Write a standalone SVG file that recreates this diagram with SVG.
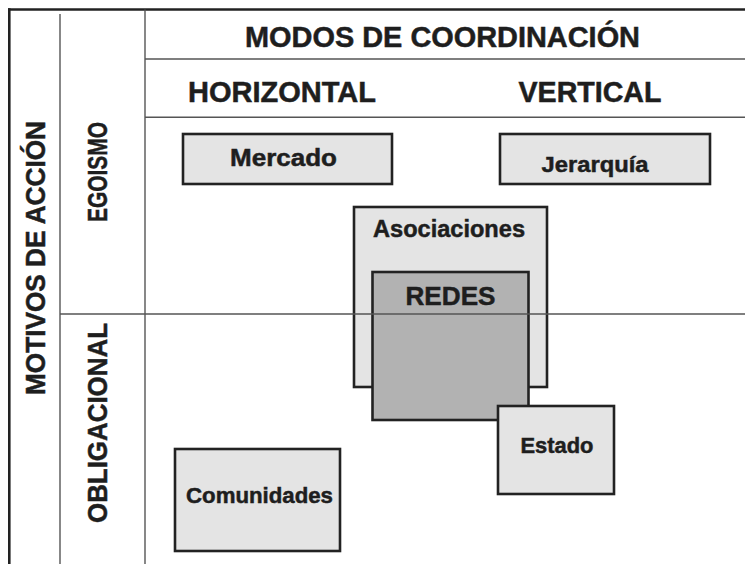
<svg xmlns="http://www.w3.org/2000/svg" width="745" height="564" viewBox="0 0 745 564">
  <style>
    .box { fill: #e4e4e4; stroke: #222; stroke-width: 2.6; }
    .dark { fill: #b2b2b2; stroke: #222; stroke-width: 2.6; }
    .lbl { font-family: "Liberation Sans", Arial, sans-serif; font-weight: bold; fill: #1e1e1e; stroke: #1e1e1e; stroke-width: 0.5; text-anchor: middle; }
    .grid { stroke: #555; stroke-width: 1.4; fill: none; }
    .frame { stroke: #222; stroke-width: 2.6; fill: none; }
  </style>
  <rect width="745" height="564" fill="#fff"/>

  <g id="headers">
    <text class="lbl" x="442.5" y="47" font-size="28.8" textLength="395" lengthAdjust="spacingAndGlyphs">MODOS DE COORDINACIÓN</text>
    <text class="lbl" x="282" y="102" font-size="28.8" textLength="188" lengthAdjust="spacingAndGlyphs">HORIZONTAL</text>
    <text class="lbl" x="590" y="102" font-size="28.8" textLength="143" lengthAdjust="spacingAndGlyphs">VERTICAL</text>
    <text class="lbl" transform="translate(45,258) rotate(-90)" font-size="27.5" textLength="274" lengthAdjust="spacingAndGlyphs">MOTIVOS DE ACCIÓN</text>
    <text class="lbl" transform="translate(107,172) rotate(-90)" font-size="27" textLength="100" lengthAdjust="spacingAndGlyphs">EGOISMO</text>
    <text class="lbl" transform="translate(107,423) rotate(-90)" font-size="27.5" textLength="200" lengthAdjust="spacingAndGlyphs">OBLIGACIONAL</text>
  </g>

  <g id="mercado">
    <rect class="box" x="183" y="134" width="209" height="50"/>
    <text class="lbl" x="283.5" y="166" font-size="24" textLength="107" lengthAdjust="spacingAndGlyphs">Mercado</text>
  </g>
  <g id="jerarquia">
    <rect class="box" x="500" y="134" width="210" height="50"/>
    <text class="lbl" x="595" y="172" font-size="22.5" textLength="107" lengthAdjust="spacingAndGlyphs">Jerarquía</text>
  </g>
  <g id="asociaciones">
    <rect class="box" x="354" y="207" width="193" height="180"/>
    <text class="lbl" x="449" y="236.5" font-size="23.5" textLength="152" lengthAdjust="spacingAndGlyphs">Asociaciones</text>
  </g>
  <g id="redes">
    <rect class="dark" x="372.5" y="272" width="156" height="148"/>
    <text class="lbl" x="450.5" y="305" font-size="26.5" textLength="90" lengthAdjust="spacingAndGlyphs">REDES</text>
  </g>
  <g id="estado">
    <rect class="box" x="498" y="406" width="116" height="88"/>
    <text class="lbl" x="557" y="453" font-size="22" textLength="73" lengthAdjust="spacingAndGlyphs">Estado</text>
  </g>
  <g id="comunidades">
    <rect class="box" x="175" y="449" width="165" height="102"/>
    <text class="lbl" x="259.5" y="503" font-size="22.5" textLength="147" lengthAdjust="spacingAndGlyphs">Comunidades</text>
  </g>

  <g id="grid">
    <line class="frame" x1="8" y1="9.5" x2="745" y2="9.5"/>
    <line class="frame" x1="9.3" y1="8.2" x2="9.3" y2="564"/>
    <line class="grid" x1="60" y1="14" x2="60" y2="564"/>
    <line class="grid" x1="145" y1="9.5" x2="145" y2="564"/>
    <line class="grid" x1="145" y1="59" x2="745" y2="59"/>
    <line class="grid" x1="145" y1="117.3" x2="745" y2="117.3"/>
    <line class="grid" x1="60" y1="314" x2="745" y2="314"/>
  </g>
</svg>
